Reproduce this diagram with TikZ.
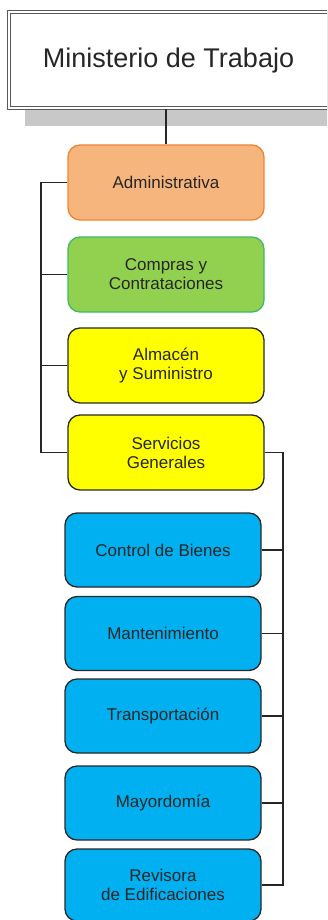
\documentclass[tikz,border=0pt]{standalone}
\usepackage{fontspec}
\setmainfont{Liberation Sans}
\usetikzlibrary{positioning}
\definecolor{admfill}{RGB}{247,181,126}
\definecolor{admline}{RGB}{240,132,52}
\definecolor{ccfill}{RGB}{146,208,80}
\definecolor{ccline}{RGB}{64,184,104}
\definecolor{amarillo}{RGB}{255,255,0}
\definecolor{azul}{RGB}{0,176,240}
\definecolor{borde}{RGB}{40,40,40}
\definecolor{sombra}{RGB}{200,200,200}
\tikzset{
  unidad/.style={draw=borde, line width=1.3pt, rounded corners=12pt, minimum width=196pt,
    minimum height=75pt, align=center, font=\fontsize{17}{19}\selectfont, text=black!85},
  enlace/.style={draw=black!85, line width=1.2pt}
}
\begin{document}
\begin{tikzpicture}[x=1pt,y=-1pt]
 \useasboundingbox (0,0) rectangle (327,920);
 \clip (0,0) rectangle (327,920);
 % cabecera
 \fill[sombra] (25,105) rectangle (332,126);
 \node[draw=black!65, fill=white, double, double distance=2pt, line width=1pt,
   minimum width=320pt, minimum height=96pt, font=\fontsize{27}{30}\selectfont, text=black!85]
   (mt) at (168.5,60.5) {Ministerio de Trabajo};
 %
 \node[unidad, draw=admline, fill=admfill] (adm) at (166,182.5) {Administrativa};
 \node[unidad, draw=ccline, fill=ccfill] (cc) at (166,274.5) {Compras y\\Contrataciones};
 \node[unidad, fill=amarillo] (alm) at (166,365.5) {Almacén\\y Suministro};
 \node[unidad, fill=amarillo] (sg) at (166,452.5) {Servicios\\Generales};
 %
 \node[unidad, fill=azul, minimum height=74pt] (cb) at (163,550) {Control de Bienes};
 \node[unidad, fill=azul, minimum height=74pt] (man) at (163,633.5) {Mantenimiento};
 \node[unidad, fill=azul, minimum height=74pt] (tra) at (163,716) {Transportación};
 \node[unidad, fill=azul, minimum height=74pt] (may) at (163,803) {Mayordomía};
 \node[unidad, fill=azul, minimum height=72pt] (rev) at (163,885) {Revisora\\de Edificaciones};
 %
 \coordinate (lbus) at (41,0);
 \coordinate (rbus) at (283,0);
 \draw[enlace] (mt.south -| adm.north) -- (adm.north);
 \draw[enlace] (adm.west) -- (adm.west -| lbus) -- (sg.west -| lbus) -- (sg.west);
 \draw[enlace] (cc.west) -- (cc.west -| lbus);
 \draw[enlace] (alm.west) -- (alm.west -| lbus);
 %
 \draw[enlace] (sg.east) -- (sg.east -| rbus) -- (rev.east -| rbus) -- (rev.east);
 \draw[enlace] (cb.east) -- (cb.east -| rbus);
 \draw[enlace] (man.east) -- (man.east -| rbus);
 \draw[enlace] (tra.east) -- (tra.east -| rbus);
 \draw[enlace] (may.east) -- (may.east -| rbus);
\end{tikzpicture}
\end{document}
